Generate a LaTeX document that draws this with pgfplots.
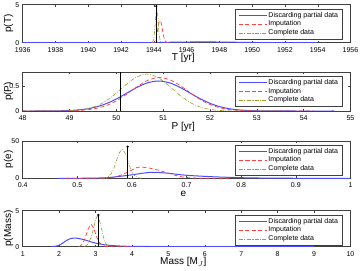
\documentclass[border=0pt]{standalone}
\usepackage{pgfplots}
\pgfplotsset{compat=1.18}
\usepackage{fontspec}
\setmainfont{Liberation Sans}
\definecolor{cblue}{rgb}{0.3,0.3,1}
\definecolor{cred}{rgb}{1,0.25,0.25}
\definecolor{colive}{rgb}{0.62,0.62,0.2}
\definecolor{axgray}{rgb}{0.25,0.25,0.25}
\pgfplotsset{
  legend image code/.code={\draw[mark repeat=2,mark phase=2,#1] plot coordinates {(0pt,0pt) (14pt,0pt) (28pt,0pt)};},
  every axis/.append style={
    scale only axis, width=327.8pt,
    axis line style={axgray, line width=0.4pt},
    every tick/.style={axgray, line width=0.4pt},
    tick align=inside, tick pos=both, major tick length=2pt,
    ticklabel style={font=\fontsize{7}{8}\selectfont},
    xticklabel style={yshift=-1.2pt},
    label style={font=\fontsize{7.5}{8}\selectfont},
    /pgf/number format/assume math mode=true,
    /pgf/number format/1000 sep={},
    every axis y label/.style={at={(axis description cs:-0.043,0.5)}, rotate=90, anchor=center},
    every axis x label/.style={at={(axis description cs:0.49,0)}, anchor=center, yshift=-15.5pt},
    legend style={at={(rel axis cs:0.975,1)}, anchor=north east, yshift=-4pt,
      draw=axgray, fill=white,
      font=\fontsize{7}{7.5}\selectfont,
      nodes={inner sep=1pt, text height=5.2pt, text depth=1.6pt},
      row sep=0pt},
    legend cell align=left,
  },
}
\begin{document}
\begin{tikzpicture}
\useasboundingbox (0,0) rectangle (360pt,271pt);
% Panel 1: T
\begin{axis}[at={(22.7pt,228.3pt)}, anchor=south west, height=38pt,
  xmin=1936, xmax=1956, ymin=0, ymax=5, xtick={1936,1938,...,1956}, ytick={0,5},
  xlabel={T [yr]}, ylabel={p(T)}]
\addplot[color=cblue, line width=1pt, solid, mark=none] coordinates {(1936,0) (1940,0.003) (1943,0.008) (1944,0.02) (1945,0.06) (1946,0.09) (1947,0.1) (1948,0.09) (1949,0.06) (1950,0.03) (1951,0.01) (1952,0.003) (1954,0)};
\addlegendentry{Discarding partial data}
\addplot[color=cred, line width=0.7pt, dash pattern=on 4pt off 2.5pt, mark=none] coordinates {(1943.88,0.005) (1943.93,0.017) (1943.98,0.049) (1944.03,0.127) (1944.08,0.29) (1944.13,0.59) (1944.18,1.05) (1944.23,1.63) (1944.28,2.25) (1944.33,2.72) (1944.38,2.9) (1944.43,2.72) (1944.48,2.25) (1944.53,1.63) (1944.58,1.05) (1944.63,0.59) (1944.68,0.29) (1944.73,0.127) (1944.78,0.049) (1944.83,0.017) (1944.88,0.005)};
\addlegendentry{Imputation}
\addplot[color=colive, line width=0.6pt, dash pattern=on 4pt off 1.5pt on 0.8pt off 1.5pt, mark=none] coordinates {(1943.88,0.015) (1943.93,0.085) (1943.98,0.354) (1944.03,1.08) (1944.08,2.38) (1944.13,3.84) (1944.18,4.5) (1944.23,3.84) (1944.28,2.38) (1944.33,1.08) (1944.38,0.354) (1944.43,0.085) (1944.48,0.015)};
\addlegendentry{Complete data}
\addplot[color=black, solid, line width=0.6pt, mark=*, mark size=0.8pt, mark indices={2}, forget plot] coordinates {(1944.15,0) (1944.15,4.8)};
\end{axis}
% Panel 2: P
\begin{axis}[at={(22.7pt,160pt)}, anchor=south west, height=39pt,
  xmin=48, xmax=55, ymin=0, ymax=0.78, xtick={48,...,55}, ytick={0,0.5},
  xlabel={P [yr]}, ylabel={p(P)}]
\addplot[color=cblue, line width=1pt, solid, mark=none, smooth] coordinates {(48.0,0) (48.4,0.0005) (48.9,0.0065) (49.15,0.0188) (49.4,0.0472) (49.65,0.1026) (49.9,0.194) (50.15,0.318) (50.4,0.452) (50.65,0.559) (50.9,0.6) (51.15,0.559) (51.4,0.452) (51.65,0.318) (51.9,0.194) (52.15,0.1026) (52.4,0.0472) (52.65,0.0188) (52.9,0.0065) (53.4,0.0005) (54.65,0)};
\addlegendentry{Discarding partial data}
\addplot[color=cred, line width=0.7pt, dash pattern=on 4pt off 2.5pt, mark=none, smooth] coordinates {(48.0,0) (48.42,0.0001) (48.92,0.0024) (49.17,0.0089) (49.42,0.0279) (49.67,0.0737) (49.92,0.163) (50.17,0.303) (50.42,0.471) (50.67,0.613) (50.92,0.67) (51.17,0.613) (51.42,0.471) (51.67,0.303) (51.92,0.163) (52.17,0.0737) (52.42,0.0279) (52.67,0.0089) (52.92,0.0024) (53.42,0.0001) (54.2,0)};
\addlegendentry{Imputation}
\addplot[color=colive, line width=0.6pt, dash pattern=on 4pt off 1.5pt on 0.8pt off 1.5pt, mark=none, smooth] coordinates {(48.0,0) (48.65,0.001) (48.9,0.0038) (49.15,0.0154) (49.4,0.0503) (49.65,0.132) (49.9,0.281) (50.15,0.481) (50.4,0.664) (50.65,0.74) (50.9,0.664) (51.15,0.481) (51.4,0.281) (51.65,0.132) (51.9,0.0503) (52.15,0.0154) (52.4,0.0038) (52.65,0.001) (53.5,0)};
\addlegendentry{Complete data}
\addplot[color=black, solid, line width=0.8pt, mark=none, forget plot] coordinates {(50.08,0) (50.08,0.78)};
\end{axis}
% Panel 3: e
\begin{axis}[at={(22.7pt,92.7pt)}, anchor=south west, height=37.6pt,
  xmin=0.4, xmax=1, ymin=0, ymax=50, xtick={0.4,0.5,...,1}, ytick={0,50},
  xlabel={e}, ylabel={p(e)}]
\addplot[color=cblue, line width=1pt, solid, mark=none, smooth] coordinates {(0.465,0) (0.52,0.1) (0.54,0.4) (0.56,1.2) (0.58,2.8) (0.60,4.6) (0.62,6.8) (0.636,8) (0.65,7.7) (0.67,6.4) (0.70,4) (0.75,2) (0.80,0.8) (0.85,0.25) (0.90,0.05) (0.95,0.01) (1.0,0)};
\addlegendentry{Discarding partial data}
\addplot[color=cred, line width=0.7pt, dash pattern=on 4pt off 2.5pt, mark=none, smooth] coordinates {(0.48,0) (0.55,0.2) (0.56,0.7) (0.57,2) (0.58,4.3) (0.59,7.5) (0.60,11) (0.61,14.6) (0.62,14.7) (0.63,13.8) (0.64,12.3) (0.65,10.5) (0.66,8.3) (0.67,6) (0.68,3.8) (0.69,2.2) (0.70,1.1) (0.71,0.5) (0.72,0.2) (0.74,0.05) (0.78,0)};
\addlegendentry{Imputation}
\addplot[color=colive, line width=0.6pt, dash pattern=on 4pt off 1.5pt on 0.8pt off 1.5pt, mark=none] coordinates {(0.547,0.13) (0.552,0.58) (0.557,2.1) (0.562,5.98) (0.567,13.5) (0.572,24.2) (0.577,34.3) (0.582,38.5) (0.587,34.3) (0.592,24.2) (0.597,13.5) (0.602,5.98) (0.607,2.1) (0.612,0.58) (0.617,0.13)};
\addlegendentry{Complete data}
\addplot[color=black, solid, line width=0.6pt, mark=*, mark size=0.8pt, mark indices={2}, forget plot] coordinates {(0.592,0) (0.592,42)};
\end{axis}
% Panel 4: Mass
\begin{axis}[at={(22.7pt,24.3pt)}, anchor=south west, height=36pt,
  xmin=1, xmax=10, ymin=0, ymax=5, xtick={1,...,10}, ytick={0,5},
  xlabel={Mass [M$_J$]}, ylabel={p(Mass)}]
\addplot[color=cblue, line width=1pt, solid, mark=none, smooth] coordinates {(1.8,0.02) (1.9,0.06) (2.0,0.2) (2.1,0.5) (2.2,0.85) (2.3,1.1) (2.42,1.2) (2.55,1.13) (2.7,0.95) (2.85,0.72) (3.0,0.5) (3.2,0.3) (3.4,0.18) (3.7,0.09) (4.0,0.05) (5,0.015) (7,0.003) (9,0)};
\addlegendentry{Discarding partial data}
\addplot[color=cred, line width=0.7pt, dash pattern=on 4pt off 2.5pt, mark=none] coordinates {(2.55,0) (2.65,0.4) (2.72,1.3) (2.8,2.5) (2.88,3.1) (2.95,2.6) (3.02,1.5) (3.1,0.6) (3.2,0.15) (3.3,0.02) (3.5,0) (4.0,0)};
\addlegendentry{Imputation}
\addplot[color=colive, line width=0.6pt, dash pattern=on 4pt off 1.5pt on 0.8pt off 1.5pt, mark=none] coordinates {(2.7,0) (2.8,0.4) (2.88,1.3) (2.95,2.6) (3.0,3.7) (3.05,4.3) (3.1,3.8) (3.16,2.6) (3.22,1.3) (3.28,0.45) (3.35,0.1) (3.45,0)};
\addlegendentry{Complete data}
\addplot[color=black, solid, line width=0.6pt, mark=*, mark size=0.8pt, mark indices={2}, forget plot] coordinates {(3.08,0) (3.08,4.4)};
\end{axis}
\end{tikzpicture}
\end{document}
